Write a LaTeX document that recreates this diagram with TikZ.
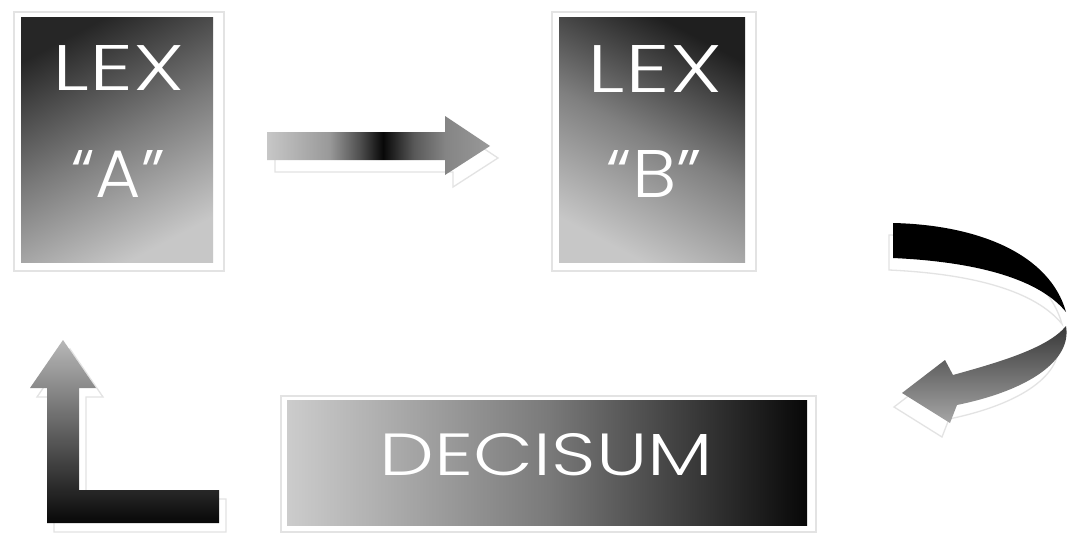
\documentclass[tikz,border=0pt]{standalone}
\usepackage{fontspec}
\IfFontExistsTF{Poppins Light}{\setmainfont{Poppins Light}}{\setmainfont{Poppins}}
\usepackage{graphicx}
\pgfdeclarehorizontalshading{barshade}{100bp}{color(0bp)=(black!22); color(25bp)=(black!22); color(39bp)=(black!40); color(46bp)=(black!70); color(51bp)=(black!97); color(58bp)=(black!65); color(65bp)=(black!48); color(75bp)=(black!40); color(100bp)=(black!40)}
\begin{document}
\begin{tikzpicture}[x=1pt,y=-1pt,
  frame/.style={fill=white, draw=black!11, line width=2.5pt},
  shadowline/.style={fill=white, draw=black!11, line width=1.3pt},
  lbl/.style={text=white, inner sep=0pt, outer sep=0pt},
  panel/.style={draw=none, inner sep=0pt, outer sep=0pt, rectangle}]
\useasboundingbox (0,0) rectangle (1080,538);
\fill[white] (0,0) rectangle (1080,538);

% ---- box A ----
\draw[frame] (14,12) rectangle (224,271);
\node[panel, minimum width=192pt, minimum height=245pt,
      top color=black!85, bottom color=black!22, middle color=black!52, shading angle=28] (lexA) at (117,139.5) {};
\node[lbl] (lexAt) at (119,67.5) {\resizebox{132pt}{45pt}{LEX}};
\node[lbl] (lexAq) at (118.5,173.5) {\resizebox{93pt}{47pt}{“A”}};

% ---- box B ----
\draw[frame] (552,12) rectangle (756,271);
\node[panel, minimum width=186pt, minimum height=245pt,
      top color=black!88, bottom color=black!22, middle color=black!50, shading angle=-28] (lexB) at (652,139.5) {};
\node[lbl] (lexBt) at (655,68.5) {\resizebox{134pt}{47pt}{LEX}};
\node[lbl] (lexBq) at (654.5,173.5) {\resizebox{95pt}{47pt}{“B”}};

% ---- DECISUM ----
\draw[frame] (281,396) rectangle (816,532);
\node[panel, minimum width=520pt, minimum height=125pt,
      left color=black!20, right color=black!97, middle color=black!52] (dec) at (547,462.5) {};
\node[lbl] (dect) at (546.5,455) {\resizebox{333pt}{42pt}{DECISUM}};

% ---- straight arrow A -> B ----
\draw[shadowline, shift={(8,12)}] (267,132) -- (445,132) -- (445,116) -- (490,146) -- (445,175) -- (445,160) -- (267,160) -- cycle;
\shade[shading=barshade] (267,132) -- (445,132) -- (445,116) -- (490,146) -- (445,175) -- (445,160) -- (267,160) -- cycle;

% ---- curved arrow B -> DECISUM ----
\draw[shadowline, shift={(-4,12)}] (893,223) .. controls (980,225) and (1050,255) .. (1066,312)
   .. controls (1040,280) and (980,262) .. (893,258) -- cycle;
\draw[shadowline, shift={(-8,14)}] (1066,326) .. controls (1072,360) and (1030,390) .. (957,405)
   -- (950,423) -- (902,393) -- (945,360) -- (953,375)
   .. controls (1000,362) and (1048,348) .. (1066,326) -- cycle;
\fill[black] (893,223) .. controls (980,225) and (1050,255) .. (1066,312)
   .. controls (1040,280) and (980,262) .. (893,258) -- cycle;
\shade[top color=black!78, bottom color=black!35] (1066,326) .. controls (1072,360) and (1030,390) .. (957,405)
   -- (950,423) -- (902,393) -- (945,360) -- (953,375)
   .. controls (1000,362) and (1048,348) .. (1066,326) -- cycle;

% ---- L arrow DECISUM -> A ----
\draw[shadowline, shift={(7,9)}] (63,340) -- (96,388) -- (79,388) -- (79,490) -- (219,490) -- (219,523) -- (47,523) -- (47,388) -- (30,388) -- cycle;
\shade[top color=black!28, bottom color=black!97] (63,340) -- (96,388) -- (79,388) -- (79,490) -- (219,490) -- (219,523) -- (47,523) -- (47,388) -- (30,388) -- cycle;
\end{tikzpicture}
\end{document}
